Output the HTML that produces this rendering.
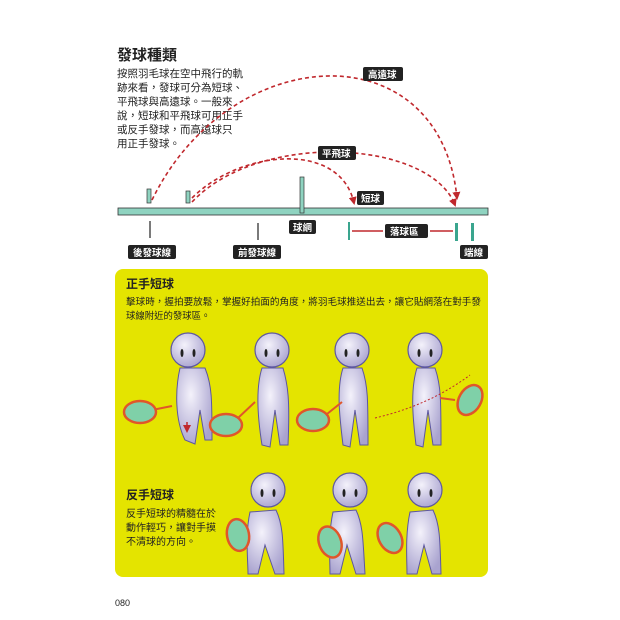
<!DOCTYPE html>
<html><head><meta charset="utf-8"><style>
body{margin:0;background:#fff;}
svg{display:block}
text{font-family:"Liberation Sans","Noto Sans CJK TC",sans-serif;}
</style></head><body>
<svg width="620" height="620" viewBox="0 0 620 620" xmlns="http://www.w3.org/2000/svg">
<defs>
<marker id="ah" markerUnits="userSpaceOnUse" markerWidth="8" markerHeight="8" refX="6" refY="4" orient="auto"><path d="M0,0 L8,4 L0,8 z" fill="#c0282d"/></marker>
<radialGradient id="sk" cx="40%" cy="35%" r="70%"><stop offset="0" stop-color="#f4f2fb"/><stop offset="1" stop-color="#a9a3cf"/></radialGradient>
<g id="head"><ellipse cx="0" cy="0" rx="17" ry="17" fill="url(#sk)" stroke="#5d57a0" stroke-width="1.2"/><ellipse cx="-6" cy="3" rx="1.5" ry="4" fill="#222"/><ellipse cx="6" cy="3" rx="1.5" ry="4" fill="#222"/></g>
<g id="rk"><ellipse cx="0" cy="0" rx="16" ry="11" fill="#7fd0a8" stroke="#e0562a" stroke-width="2.5"/></g>
</defs>
<text x="117" y="60" font-size="15" font-weight="bold" fill="#222">發球種類</text>
<g font-size="10.5" fill="#222">
<text x="117" y="77">按照羽毛球在空中飛行的軌</text>
<text x="117" y="91">跡來看，發球可分為短球、</text>
<text x="117" y="105">平飛球與高遠球。一般來</text>
<text x="117" y="119">說，短球和平飛球可用正手</text>
<text x="117" y="133">或反手發球，而高遠球只</text>
<text x="117" y="147">用正手發球。</text>
</g>
<g fill="none" stroke="#c0282d" stroke-width="1.6" stroke-dasharray="4,3">
<path d="M152,200 C230,40 440,30 457,198" marker-end="url(#ah)"/>
<path d="M192,198 C240,150 340,140 354,203" marker-end="url(#ah)"/>
<path d="M192,202 C260,130 430,140 455,205" marker-end="url(#ah)"/>
</g>
<g font-size="9.5" fill="#fff" font-weight="bold">
<rect x="363" y="67" width="40" height="14" rx="2" fill="#222"/><text x="368" y="78">高遠球</text>
<rect x="318" y="146" width="38" height="14" rx="2" fill="#222"/><text x="322" y="157">平飛球</text>
<rect x="357" y="191" width="27" height="14" rx="2" fill="#222"/><text x="361" y="202">短球</text>
<rect x="289" y="220" width="27" height="14" rx="2" fill="#222"/><text x="293" y="231">球網</text>
<rect x="385" y="224" width="43" height="14" rx="2" fill="#222"/><text x="390" y="235">落球區</text>
<rect x="128" y="245" width="48" height="14" rx="2" fill="#222"/><text x="133" y="256">後發球線</text>
<rect x="233" y="245" width="48" height="14" rx="2" fill="#222"/><text x="238" y="256">前發球線</text>
<rect x="460" y="245" width="28" height="14" rx="2" fill="#222"/><text x="464" y="256">端線</text>
</g>
<rect x="118" y="208" width="370" height="7" fill="#8fd3c0" stroke="#333" stroke-width="0.8"/>
<rect x="147" y="189" width="4" height="14" fill="#8fd3c0" stroke="#333" stroke-width="0.7"/>
<rect x="186" y="191" width="4" height="12" fill="#8fd3c0" stroke="#333" stroke-width="0.7"/>
<rect x="300" y="177" width="4" height="36" fill="#8fd3c0" stroke="#333" stroke-width="0.7"/>
<g stroke="#222" stroke-width="1.2"><line x1="150" y1="221" x2="150" y2="238"/><line x1="258" y1="223" x2="258" y2="240"/></g>
<g fill="#3aa58e"><rect x="348" y="222" width="2" height="18"/><rect x="455" y="223" width="3" height="18"/><rect x="471" y="223" width="3" height="18"/></g>
<g stroke="#c0282d" stroke-width="1.5"><line x1="352" y1="231" x2="383" y2="231"/><line x1="430" y1="231" x2="453" y2="231"/></g>
<rect x="115" y="269" width="373" height="308" rx="8" fill="#e4e400"/>
<text x="126" y="288" font-size="12" font-weight="bold" fill="#222">正手短球</text>
<text x="126" y="305" font-size="9.4" fill="#222" textLength="355" lengthAdjust="spacingAndGlyphs">擊球時，握拍要放鬆，掌握好拍面的角度，將羽毛球推送出去，讓它貼網落在對手發</text>
<text x="126" y="319" font-size="9.4" fill="#222">球線附近的發球區。</text>
<text x="126" y="499" font-size="12" font-weight="bold" fill="#222">反手短球</text>
<g font-size="10" fill="#222"><text x="126" y="517">反手短球的精髓在於</text><text x="126" y="531">動作輕巧，讓對手摸</text><text x="126" y="545">不清球的方向。</text></g>
<g stroke="#5d57a0" stroke-width="1" fill="url(#sk)">
<path d="M180,368 C175,390 175,420 185,440 L195,444 L200,410 L205,440 L212,440 C212,400 212,385 205,368 z"/>
<path d="M262,368 C255,390 258,420 262,445 L270,447 L275,410 L280,445 L288,445 C290,400 288,385 283,368 z"/>
<path d="M343,368 C336,390 340,420 343,445 L350,447 L355,410 L360,445 L368,445 C368,400 368,385 362,368 z"/>
<path d="M417,368 C410,390 413,420 416,445 L423,447 L428,410 L433,445 L441,445 C441,400 441,385 435,368 z"/>
<path d="M250,512 C245,535 248,560 248,574 L258,574 L265,545 L275,574 L284,574 C283,540 283,525 276,510 z"/>
<path d="M333,512 C328,535 330,560 330,574 L340,574 L347,545 L356,574 L365,574 C363,540 363,525 356,510 z"/>
<path d="M410,512 C405,535 407,560 407,574 L417,574 L424,545 L432,574 L441,574 C440,540 440,525 433,510 z"/>
</g>
<use href="#head" x="188" y="350"/><use href="#head" x="272" y="350"/><use href="#head" x="352" y="350"/><use href="#head" x="425" y="350"/>
<use href="#head" x="268" y="490"/><use href="#head" x="350" y="490"/><use href="#head" x="425" y="490"/>
<g stroke="#e0562a" stroke-width="2"><line x1="152" y1="410" x2="172" y2="406"/><line x1="238" y1="418" x2="255" y2="402"/><line x1="322" y1="418" x2="342" y2="402"/><line x1="440" y1="398" x2="455" y2="400"/></g>
<use href="#rk" x="140" y="412"/><use href="#rk" x="226" y="425"/><use href="#rk" x="313" y="420"/><use href="#rk" x="470" y="400" transform="rotate(-60 470 400)"/>
<use href="#rk" x="238" y="535" transform="rotate(80 238 535)"/><use href="#rk" x="330" y="542" transform="rotate(70 330 542)"/><use href="#rk" x="390" y="538" transform="rotate(60 390 538)"/>
<path d="M375,418 Q430,405 470,375" fill="none" stroke="#c0282d" stroke-dasharray="2,2" stroke-width="1"/>
<path d="M187,422 L187,431" stroke="#c0282d" stroke-width="1.5" marker-end="url(#ah)"/>
<text x="115" y="606" font-size="9" fill="#222">080</text>
</svg>
</body></html>
